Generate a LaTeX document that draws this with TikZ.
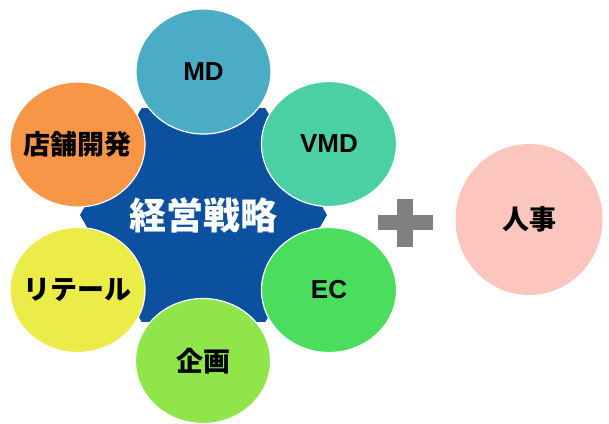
\documentclass[tikz,border=0pt]{standalone}
\usepackage{fontspec}
\setmainfont{Liberation Sans}
\newfontfamily\jpfont{Noto Sans CJK JP}
\usepackage{tikz}
\usetikzlibrary{shapes}

\definecolor{hexBlue}{RGB}{12,80,160}
\definecolor{mdBlue}{RGB}{75,172,198}
\definecolor{vmdGreen}{RGB}{74,208,164}
\definecolor{ecGreen}{RGB}{74,221,94}
\definecolor{planGreen}{RGB}{143,229,74}
\definecolor{retailYellow}{RGB}{236,236,72}
\definecolor{storeOrange}{RGB}{247,150,70}
\definecolor{hrPink}{RGB}{252,198,190}
\definecolor{plusGray}{RGB}{128,128,128}

\newcommand{\bubbletext}[1]{\makebox[0pt]{#1}}

\tikzset{
  bubble/.style={ellipse, draw=white, line width=1.2pt, minimum width=135pt, minimum height=125pt, inner sep=0pt, font=\bfseries\fontsize{26}{30}\selectfont},
  jpbubble/.style={bubble, font=\jpfont\bfseries\fontsize{27}{31}\selectfont}
}

\begin{document}
\begin{tikzpicture}[x=1pt,y=1pt,yscale=-1,xscale=1]
\useasboundingbox (0,0) rectangle (609,423);

%Shape: Hexagon
\node [regular polygon, regular polygon sides=6, minimum size=247pt, inner sep=0pt, fill=hexBlue, text=white, font=\jpfont\bfseries\fontsize{37}{40}\selectfont] (strategy) at (203.5,215) {経営戦略};

%Shape: Ellipse
\node [bubble, fill=mdBlue] (md) at (203.5,71.5) {MD};
%Shape: Ellipse
\node [bubble, fill=vmdGreen] (vmd) at (329,144) {VMD};
%Shape: Ellipse
\node [bubble, fill=ecGreen] (ec) at (329,290) {EC};
%Shape: Ellipse
\node [jpbubble, fill=planGreen] (plan) at (203,361) {\bubbletext{企画}};
%Shape: Ellipse
\node [jpbubble, fill=retailYellow] (retail) at (77.5,290) {\bubbletext{リテール}};
%Shape: Ellipse
\node [jpbubble, fill=storeOrange] (store) at (77.5,144.5) {\bubbletext{店舗開発}};

%Shape: Plus
\fill [plusGray] (378,215) rectangle (433,230);
\fill [plusGray] (397,199) rectangle (413,247);

%Shape: Ellipse
\node [jpbubble, draw=none, fill=hrPink, minimum width=147pt, minimum height=151pt] (hr) at (529,219.5) {\bubbletext{人事}};

\end{tikzpicture}
\end{document}
